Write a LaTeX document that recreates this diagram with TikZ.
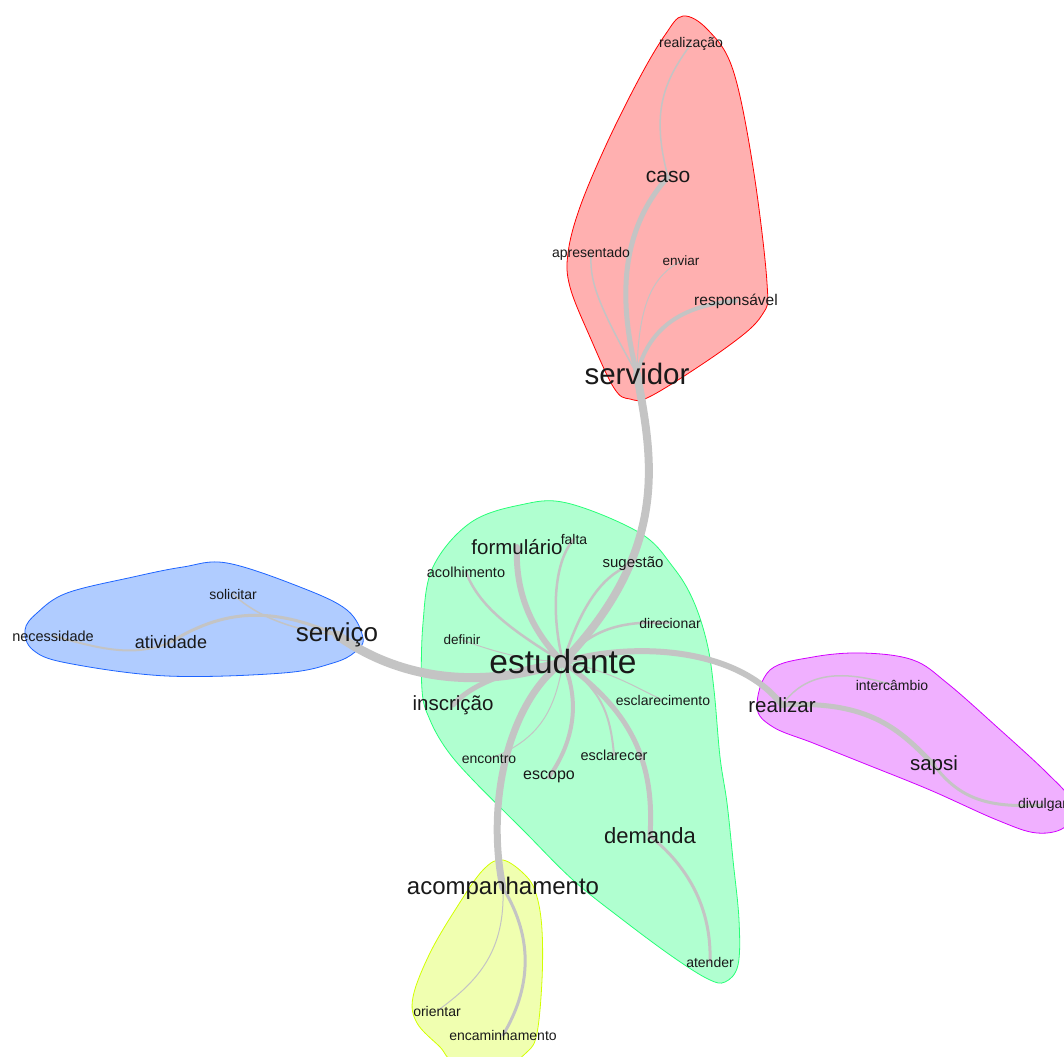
\documentclass[tikz,border=0pt]{standalone}
\usepackage{fontspec}
\setmainfont{Liberation Sans}
\pgfdeclarelayer{blobs}
\pgfdeclarelayer{edges}
\pgfsetlayers{blobs,edges,main}
\definecolor{edgegray}{RGB}{196,196,196}
\definecolor{redfill}{RGB}{255,176,176}
\definecolor{redline}{RGB}{255,0,0}
\definecolor{greenfill}{RGB}{176,255,208}
\definecolor{greenline}{RGB}{40,255,120}
\definecolor{bluefill}{RGB}{176,204,255}
\definecolor{blueline}{RGB}{30,100,255}
\definecolor{magfill}{RGB}{240,176,255}
\definecolor{magline}{RGB}{210,0,255}
\definecolor{yelfill}{RGB}{240,255,176}
\definecolor{yelline}{RGB}{210,255,0}
\tikzset{
  word/.style={inner sep=0pt, text=black!90},
  w/.style={word, font=\fontsize{#1}{#1}\selectfont},
  edge/.style={draw=edgegray, line width=#1, line cap=round},
  blob/.style={line width=0.8pt}
}
\begin{document}
\begin{tikzpicture}[x=1pt,y=-1pt]
\useasboundingbox (0,0) rectangle (1064,1056);
% words
\node[w=14] (realizacao) at (691,44) {realização};
\node[w=21] (caso) at (668,177) {caso};
\node[w=14] (apresentado) at (591,254) {apresentado};
\node[w=13.5] (enviar) at (681,261) {enviar};
\node[w=15.5] (responsavel) at (736,301) {responsável};
\node[w=29.5] (servidor) at (637,374) {servidor};
\node[w=20.5] (formulario) at (517,547) {formulário};
\node[w=14] (falta) at (574,539) {falta};
\node[w=15] (sugestao) at (633,564) {sugestão};
\node[w=14.5] (acolhimento) at (466,572) {acolhimento};
\node[w=14] (direcionar) at (670,623) {direcionar};
\node[w=13.5] (definir) at (462,640) {definir};
\node[w=33.5] (estudante) at (563,662) {estudante};
\node[w=26] (servico) at (337,635) {serviço};
\node[w=14] (solicitar) at (233,594) {solicitar};
\node[w=14.5] (necessidade) at (53,636) {necessidade};
\node[w=18] (atividade) at (171,642) {atividade};
\node[w=20.5] (inscricao) at (453,705) {inscrição};
\node[w=14] (esclarecimento) at (663,700) {esclarecimento};
\node[w=20.5] (realizar) at (782,705) {realizar};
\node[w=14] (intercambio) at (892,685) {intercâmbio};
\node[w=14] (encontro) at (489,759) {encontro};
\node[w=14.5] (esclarecer) at (614,755) {esclarecer};
\node[w=16] (escopo) at (549,777) {escopo};
\node[w=20.5] (sapsi) at (934,765) {sapsi};
\node[w=14] (divulgar) at (1042.5,805) {divulgar};
\node[w=22] (demanda) at (650,836) {demanda};
\node[w=24] (acompanhamento) at (503,888) {acompanhamento};
\node[w=14] (atender) at (710,962) {atender};
\node[w=14] (orientar) at (437,1011) {orientar};
\node[w=14] (encaminhamento) at (503,1035) {encaminhamento};

\begin{pgfonlayer}{blobs}
\filldraw[blob, fill=redfill, draw=redline] plot[smooth cycle, tension=0.6] coordinates {
 (683,16) (708,30) (733,70) (753,167) (767,283) (762,315) (727,347) (653,395) (630,399) (614,388) (590,337) (570,287) (568,253) (580,207) (607,143) (640,77) (665,35)};
\filldraw[blob, fill=greenfill, draw=greenline] plot[smooth cycle, tension=0.6] coordinates {
 (567,503) (640,533) (673,567) (693,600) (707,643) (714,690) (720,757) (727,803) (733,860) (739,920) (738,965) (725,982) (708,979) (673,957) (623,920) (573,880) (523,830) (473,780) (447,750) (430,720) (422,690) (423,623) (433,567) (470,523) (520,505)};
\filldraw[blob, fill=yelfill, draw=yelline] plot[smooth cycle, tension=0.6] coordinates {
 (503,860) (527,877) (537,897) (542,930) (542,980) (537,1033) (527,1052) (500,1068) (455,1062) (440,1047) (417,1023) (413,997) (430,953) (457,907) (483,870)};
\filldraw[blob, fill=bluefill, draw=blueline] plot[smooth cycle, tension=0.6] coordinates {
 (227,563) (300,587) (347,610) (363,638) (355,652) (333,663) (283,673) (167,676) (67,663) (33,650) (25,630) (37,613) (67,593) (133,577) (183,567)};
\filldraw[blob, fill=magfill, draw=magline] plot[smooth cycle, tension=0.6] coordinates {
 (770,670) (813,657) (863,653) (913,660) (947,683) (997,727) (1047,773) (1070,800) (1066,826) (1037,833) (997,820) (930,790) (863,763) (813,743) (773,727) (757,707)};
\end{pgfonlayer}

\begin{pgfonlayer}{edges}
% servidor cluster
\draw[edge=8] (servidor.center) .. controls (650,450) and (675,545) .. (estudante.center);
\draw[edge=5] (servidor.center) .. controls (618,300) and (620,230) .. (caso.center);
\draw[edge=1.5] (caso.center) .. controls (650,110) and (665,80) .. (realizacao.center);
\draw[edge=1.5] (servidor.center) .. controls (595,300) and (590,280) .. (apresentado.center);
\draw[edge=1] (servidor.center) .. controls (638,300) and (655,275) .. (enviar.center);
\draw[edge=4] (servidor.center) .. controls (648,330) and (680,305) .. (responsavel.center);
% estudante cluster
\draw[edge=6] (estudante.center) .. controls (530,630) and (515,590) .. (formulario.center);
\draw[edge=2.5] (estudante.center) .. controls (550,610) and (555,560) .. (falta.center);
\draw[edge=2.5] (estudante.center) .. controls (520,635) and (480,610) .. (acolhimento.center);
\draw[edge=2.5] (estudante.center) .. controls (580,610) and (600,575) .. (sugestao.center);
\draw[edge=2.5] (estudante.center) .. controls (590,630) and (620,620) .. (direcionar.center);
\draw[edge=6] (estudante.center) .. controls (640,640) and (740,650) .. (realizar.center);
\draw[edge=1] (estudante.center) .. controls (520,660) and (490,650) .. (definir.center);
\draw[edge=9] (estudante.center) .. controls (480,690) and (400,680) .. (servico.center);
\draw[edge=5] (estudante.center) .. controls (520,668) and (475,680) .. (inscricao.center);
\draw[edge=1] (estudante.center) .. controls (610,670) and (640,690) .. (esclarecimento.center);
\draw[edge=2] (estudante.center) .. controls (600,690) and (610,710) .. (esclarecer.center);
\draw[edge=5] (estudante.center) .. controls (630,710) and (655,760) .. (demanda.center);
\draw[edge=4] (estudante.center) .. controls (580,700) and (575,740) .. (escopo.center);
\draw[edge=1] (estudante.center) .. controls (555,710) and (540,740) .. (encontro.center);
\draw[edge=7] (estudante.center) .. controls (510,700) and (485,800) .. (acompanhamento.center);
\draw[edge=3] (demanda.center) .. controls (680,860) and (712,900) .. (atender.center);
% acompanhamento cluster
\draw[edge=1] (acompanhamento.center) .. controls (505,950) and (480,980) .. (orientar.center);
\draw[edge=3] (acompanhamento.center) .. controls (535,940) and (530,990) .. (encaminhamento.center);
% servico cluster
\draw[edge=1.5] (servico.center) .. controls (290,630) and (255,615) .. (solicitar.center);
\draw[edge=3] (servico.center) .. controls (280,610) and (230,605) .. (atividade.center);
\draw[edge=2] (atividade.center) .. controls (130,660) and (90,645) .. (necessidade.center);
% realizar cluster
\draw[edge=1.5] (realizar.center) .. controls (800,680) and (830,665) .. (intercambio.center);
\draw[edge=5] (realizar.center) .. controls (870,700) and (900,730) .. (sapsi.center);
\draw[edge=3] (sapsi.center) .. controls (960,800) and (990,808) .. (divulgar.center);
\end{pgfonlayer}
\end{tikzpicture}
\end{document}
